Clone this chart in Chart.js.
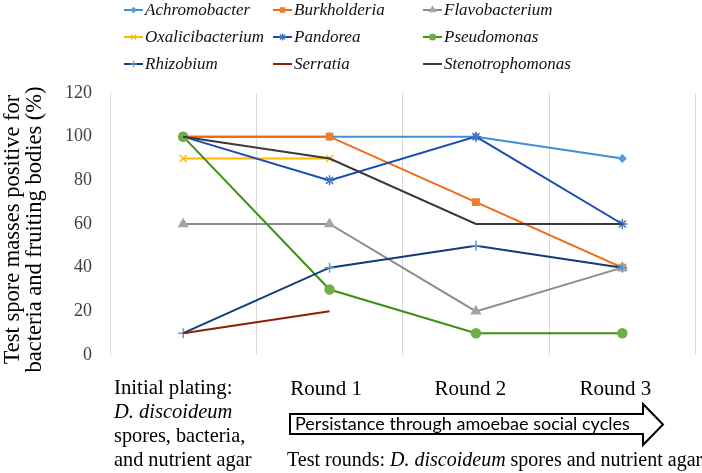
<!DOCTYPE html>
<html><head><meta charset="utf-8">
<script src="https://cdn.jsdelivr.net/npm/chart.js@4"></script>
<style>html,body{margin:0;padding:0;background:#fff;}#wrap{width:702px;height:473px;}</style>
</head><body><div id="wrap"><canvas id="c" width="702" height="473"></canvas></div>
<script>
const categories = ['Initial plating:', 'Round 1', 'Round 2', 'Round 3'];
const initialNote = ['D. discoideum', 'spores, bacteria,', 'and nutrient agar'];
const yTitle = ['Test spore masses positive for', 'bacteria and fruiting bodies (%)'];
const arrowText = 'Persistance through amoebae social cycles';
const testRoundsText = ['Test rounds: ', 'D. discoideum', ' spores and nutrient agar'];
const yTicks = [0, 20, 40, 60, 80, 100, 120];

const seriesNames = ['Achromobacter','Burkholderia','Flavobacterium','Oxalicibacterium','Pandorea','Pseudomonas','Rhizobium','Serratia','Stenotrophomonas'];
const achromobacter    = [100, 100, 100, 90];
const burkholderia     = [100, 100, 70, 40];
const flavobacterium   = [60, 60, 20, 40];
const oxalicibacterium = [90, 90, null, null];
const pandorea         = [100, 80, 100, 60];
const pseudomonas      = [100, 30, 10, 10];
const rhizobium        = [10, 40, 50, 40];
const serratia         = [10, 20, null, null];
const stenotrophomonas = [100, 90, 60, 60];

const seriesValues = [achromobacter, burkholderia, flavobacterium, oxalicibacterium, pandorea, pseudomonas, rhizobium, serratia, stenotrophomonas];
const lineColors   = ['#3D8FD9','#F06A14','#8C8C8C','#FFB800','#1A49B8','#3F8F14','#0F3C78','#8E1F06','#3A3A3A'];
const markerColors = ['#5B9BD5','#ED7D31','#A5A5A5','#FFC000','#4472C4','#70AD47','#5B9BD5','#9E480E','#636363'];
const markerStyles = ['rectRot','rect','triangle','crossRot','star','circle','cross',false,false];
const markerRadius = [3.5, 4.5, 5, 5, 5, 4.5, 5, 0, 0];

const SERIF = '"Liberation Serif", "Times New Roman", serif';

const datasets = seriesNames.map((name, i) => ({
  label: name,
  data: seriesValues[i],
  borderColor: lineColors[i],
  backgroundColor: markerColors[i],
  pointBorderColor: markerColors[i],
  pointBackgroundColor: markerColors[i],
  pointStyle: markerStyles[i],
  pointRadius: markerRadius[i],
  pointBorderWidth: 1.5,
  borderWidth: 2,
  tension: 0,
  spanGaps: false,
  order: seriesNames.length - i
}));

const labelShift = [0, -3.5, -5.5, -7];

const decor = {
  id: 'decor',
  afterDraw(chart) {
    const ctx = chart.ctx;
    const xs = chart.scales.x;
    ctx.save();

    // legend
    const colX = [124, 273, 423];
    const rowY = [10, 37, 64];
    chart.data.datasets.forEach((ds, i) => {
      const x = colX[i % 3], y = rowY[Math.floor(i / 3)];
      ctx.strokeStyle = ds.borderColor;
      ctx.lineWidth = 2;
      ctx.beginPath(); ctx.moveTo(x, y); ctx.lineTo(x + 19, y); ctx.stroke();
      if (ds.pointStyle) {
        ctx.fillStyle = ds.pointBackgroundColor;
        ctx.strokeStyle = ds.pointBorderColor;
        ctx.lineWidth = 1.2;
        Chart.helpers.drawPoint(ctx, {pointStyle: ds.pointStyle, radius: Math.max(2.5, ds.pointRadius - 1.5), rotation: 0, borderWidth: 1.2}, x + 9.5, y);
      }
      ctx.fillStyle = '#111';
      ctx.font = 'italic 17px ' + SERIF;
      ctx.textAlign = 'left'; ctx.textBaseline = 'middle';
      ctx.fillText(ds.label, x + 21, y + 1);
    });

    // y title
    ctx.fillStyle = '#000';
    ctx.font = '22.5px ' + SERIF;
    ctx.textAlign = 'center'; ctx.textBaseline = 'middle';
    [13, 35.5].forEach((lx, k) => {
      ctx.save(); ctx.translate(lx, 229.5); ctx.rotate(-Math.PI / 2);
      ctx.fillText(yTitle[k], 0, 0); ctx.restore();
    });

    // category labels
    ctx.fillStyle = '#000';
    ctx.textBaseline = 'middle';
    categories.forEach((c, i) => {
      if (i === 0) {
        ctx.font = '20.8px ' + SERIF;
        ctx.textAlign = 'left';
        ctx.fillText(c, 114, 389);
      } else {
        ctx.font = '21px ' + SERIF;
        ctx.textAlign = 'center';
        ctx.fillText(c, xs.getPixelForValue(i) + labelShift[i], 389);
      }
    });
    ctx.textAlign = 'left';
    ctx.font = 'italic 20.5px ' + SERIF;
    ctx.fillText(initialNote[0], 114, 413);
    ctx.font = '20.3px ' + SERIF;
    ctx.fillText(initialNote[1], 114, 437);
    ctx.fillText(initialNote[2], 114, 460.5);

    // arrow
    const sx = 290, st = 414, sb = 434, hx = 643, ht = 404, hb = 445, tx = 663, ty = 424.5;
    ctx.beginPath();
    ctx.moveTo(sx, st); ctx.lineTo(hx, st); ctx.lineTo(hx, ht); ctx.lineTo(tx, ty);
    ctx.lineTo(hx, hb); ctx.lineTo(hx, sb); ctx.lineTo(sx, sb); ctx.closePath();
    ctx.fillStyle = '#fff'; ctx.fill();
    ctx.strokeStyle = '#000'; ctx.lineWidth = 2; ctx.lineJoin = 'miter'; ctx.stroke();
    ctx.fillStyle = '#000';
    ctx.font = '16px Lato';
    const w16 = ctx.measureText(arrowText).width;
    const fs = 16 * 335 / w16;
    ctx.font = fs.toFixed(2) + 'px Lato';
    ctx.textAlign = 'left'; ctx.textBaseline = 'middle';
    ctx.fillText(arrowText, 295, 424);

    // test rounds line
    let x = 287;
    [['20px ', 0], ['italic 20px ', 1], ['20px ', 2]].forEach(([f, k]) => {
      ctx.font = f + SERIF;
      ctx.fillText(testRoundsText[k], x, 460.5);
      x += ctx.measureText(testRoundsText[k]).width;
    });
    ctx.restore();
  }
};

new Chart(document.getElementById('c'), {
  type: 'line',
  data: { labels: categories, datasets },
  options: {
    responsive: false,
    animation: false,
    devicePixelRatio: 1,
    layout: { padding: { top: 93, right: 5, bottom: 118, left: 0 } },
    plugins: { legend: { display: false }, tooltip: { enabled: false }, title: { display: false } },
    scales: {
      x: {
        type: 'category', offset: true,
        grid: { offset: true, color: '#d9d9d9', lineWidth: 1, drawTicks: false },
        border: { display: false },
        ticks: { display: false }
      },
      y: {
        min: 0, max: 120,
        afterBuildTicks(s) { s.ticks = yTicks.map(v => ({ value: v })); },
        afterFit(s) { s.width = 110; },
        ticks: { padding: 18, color: '#404040', font: { family: SERIF, size: 18 } },
        grid: { display: false, drawTicks: false },
        border: { display: false }
      }
    }
  },
  plugins: [decor]
});
</script>
</body></html>
